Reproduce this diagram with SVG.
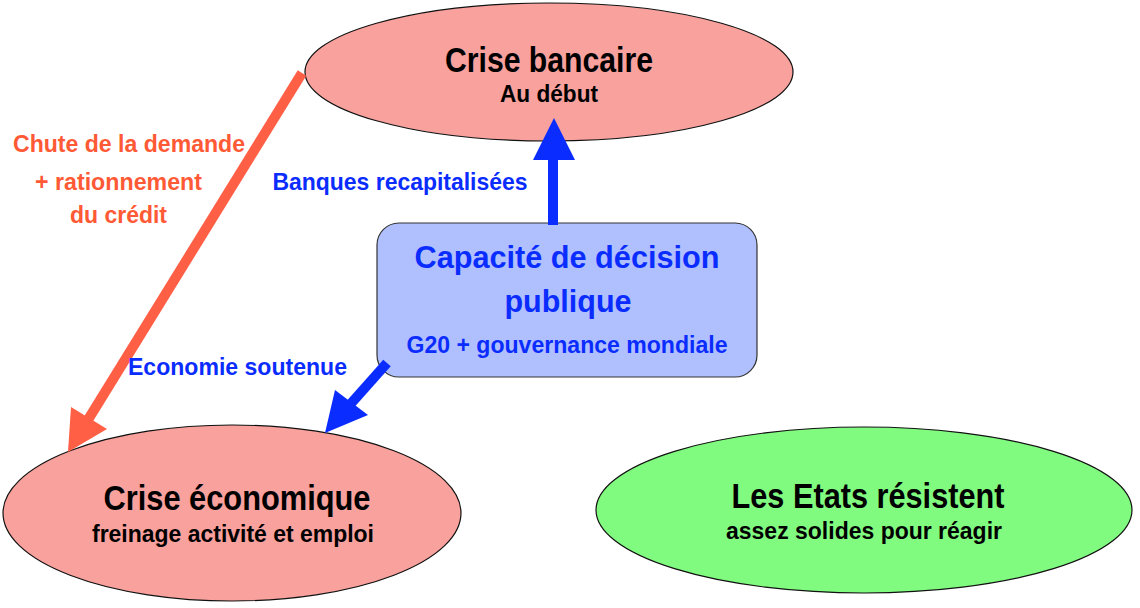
<svg xmlns="http://www.w3.org/2000/svg" width="1140" height="608" viewBox="0 0 1140 608">
<style>
text{font-family:"Liberation Sans",Arial,sans-serif;font-weight:bold;text-anchor:middle}
.t{font-size:35px;fill:#000}
.s{font-size:24px;fill:#000}
.bl{font-size:24px;fill:#0a2cff}
.or{font-size:24px;fill:#ff5a35}
.bt{font-size:32px;fill:#0a2cff}
.pink{fill:#f9a19d;stroke:#111;stroke-width:1.2}
.green{fill:#80fb80;stroke:#111;stroke-width:1.2}
.box{fill:#b0c0fe;stroke:#333;stroke-width:1.2}
.shB{stroke:#0a2cff;stroke-width:10;fill:none}
.shO{stroke:#ff5f45;stroke-width:10;fill:none}
.hB{fill:#0a2cff}
.hO{fill:#ff5f45}
</style>
<rect width="1140" height="608" fill="#fff"/>
<g id="crise-bancaire">
<ellipse class="pink" cx="549" cy="72" rx="244" ry="69"/>
<text class="t" x="549" y="72" textLength="208" lengthAdjust="spacingAndGlyphs">Crise bancaire</text>
<text class="s" x="549" y="102" textLength="98" lengthAdjust="spacingAndGlyphs">Au début</text>
</g>
<g id="crise-economique">
<ellipse class="pink" cx="232" cy="513" rx="229" ry="88"/>
<text class="t" x="237" y="510" textLength="267" lengthAdjust="spacingAndGlyphs">Crise économique</text>
<text class="s" x="233" y="542" textLength="282" lengthAdjust="spacingAndGlyphs">freinage activité et emploi</text>
</g>
<g id="les-etats">
<ellipse class="green" cx="864" cy="510" rx="268" ry="83"/>
<text class="t" x="868" y="508" textLength="273" lengthAdjust="spacingAndGlyphs">Les Etats résistent</text>
<text class="s" x="864" y="539" textLength="276" lengthAdjust="spacingAndGlyphs">assez solides pour réagir</text>
</g>
<g id="capacite">
<rect class="box" x="377" y="223" width="380" height="154" rx="22"/>
<text class="bt" x="567" y="268" textLength="305" lengthAdjust="spacingAndGlyphs">Capacité de décision</text>
<text class="bt" x="568" y="312" textLength="127" lengthAdjust="spacingAndGlyphs">publique</text>
<text class="bl" x="567" y="353" textLength="321" lengthAdjust="spacingAndGlyphs">G20 + gouvernance mondiale</text>
</g>
<g id="connectors">
<line class="shO" x1="302" y1="73" x2="86" y2="423"/>
<polygon class="hO" points="68,452 71,407 107,429"/>
<text class="or" x="129" y="152" textLength="232" lengthAdjust="spacingAndGlyphs">Chute de la demande</text>
<text class="or" x="118.5" y="190" textLength="167" lengthAdjust="spacingAndGlyphs">+ rationnement</text>
<text class="or" x="118.5" y="223" textLength="97" lengthAdjust="spacingAndGlyphs">du crédit</text>
<line class="shB" x1="553" y1="225" x2="553" y2="155"/>
<polygon class="hB" points="554,118 533,160 575,160"/>
<text class="bl" x="400" y="190" textLength="255" lengthAdjust="spacingAndGlyphs">Banques recapitalisées</text>
<line class="shB" x1="387" y1="363" x2="347" y2="408"/>
<polygon class="hB" points="325,433 335,390 368,415"/>
<text class="bl" x="237.5" y="375" textLength="219" lengthAdjust="spacingAndGlyphs">Economie soutenue</text>
</g>
</svg>
